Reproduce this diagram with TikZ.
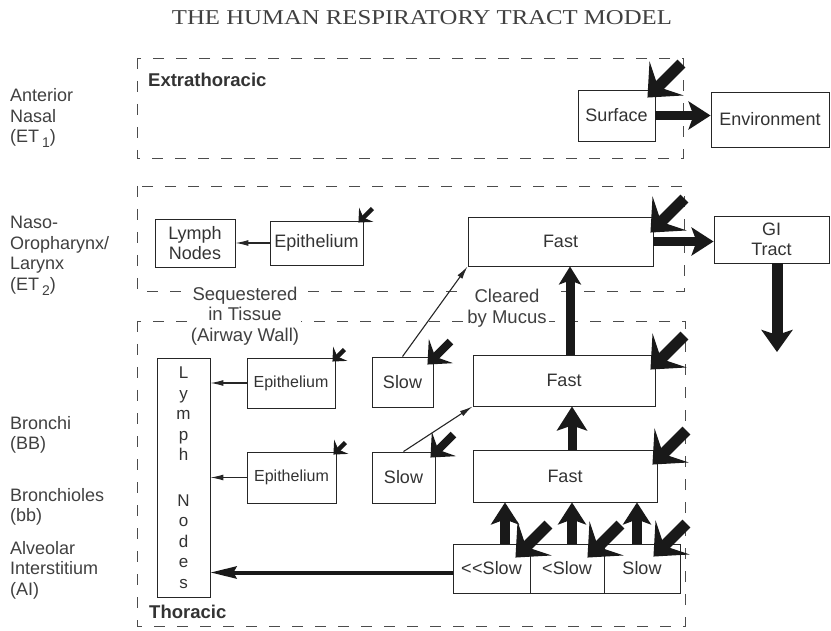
\documentclass[tikz,border=0pt]{standalone}
\usepackage{fontspec}
\usepackage{graphicx}
\setmainfont{Liberation Sans}
\newfontfamily\titlefont{Liberation Serif}
\usetikzlibrary{arrows.meta,calc}
\newcommand\subnum[1]{\,\raisebox{-5pt}{\fontsize{14}{14}\selectfont #1}}
\newcommand\inarrow[5]{%
  \coordinate (tip-#1) at ($(#1.north east)+(#2,#3)$);
  \draw[#4] ($(tip-#1)+(#5,-#5)$) -- (tip-#1);}
\begin{document}
\begin{tikzpicture}[x=1pt,y=-1pt,
  every node/.style={inner sep=0pt, text=black!80},
  box/.style={draw=black!85, line width=0.9pt, fill=white, align=center, font=\fontsize{18}{20}\selectfont},
  region/.style={draw=black!70, line width=0.9pt, dash pattern=on 11pt off 12pt},
  side/.style={anchor=west, align=left, font=\fontsize{18}{20.5}\selectfont, text=black!75},
  note/.style={align=center, fill=white, inner sep=2pt, font=\fontsize{18.5}{20.5}\selectfont, text=black!75},
  boldlab/.style={anchor=west, font=\bfseries\fontsize{18.5}{20}\selectfont},
  thinA/.style={draw=black!85, line width=1.1pt, -{Latex[length=13pt,width=6pt]}},
  flowA/.style={draw=black!90, line width=9pt, -{Stealth[length=22pt,width=28pt,inset=5pt]}},
  bigA/.style={draw=black!90, line width=11pt, -{Stealth[length=27pt,width=48pt,inset=12pt]}},
  midA/.style={draw=black!90, line width=8pt, -{Stealth[length=19pt,width=34pt,inset=8pt]}},
  smallA/.style={draw=black!90, line width=4.5pt, -{Stealth[length=11pt,width=20pt,inset=4pt]}},
]
\useasboundingbox (0,0) rectangle (831,631);

% title
\node (title) at (422,18) {\color{black!75}\titlefont\resizebox{500pt}{14pt}{THE HUMAN RESPIRATORY TRACT MODEL}};

% left labels
\node[side] (lab1) at (10,118) {Anterior\\Nasal\\(ET\subnum{1})};
\node[side] (lab2) at (10,256) {Naso-\\Oropharynx/\\Larynx\\(ET\subnum{2})};
\node[side] (lab3) at (10,435) {Bronchi\\(BB)};
\node[side] (lab4) at (10,507) {Bronchioles\\(bb)};
\node[side] (lab5) at (10,570) {Alveolar\\Interstitium\\(AI)};

% regions
\draw[region] (137,58) rectangle (683,158);
\draw[region] (137,186) rectangle (684,291);
\draw[region] (137,321) rectangle (685,626);
\node[boldlab] (extra) at (148,80) {Extrathoracic};
\node[boldlab] (thor) at (149,612) {Thoracic};
\node[note] (seq) at (245,316) {Sequestered\\in Tissue\\(Airway Wall)};
\node[note] (clr) at (507,308) {Cleared\\by Mucus};

% boxes
\node[box, minimum width=77pt, minimum height=51pt] (surf) at (616.5,115.5) {Surface};
\node[box, minimum width=118pt, minimum height=55pt] (env) at (770,119.5) {Environment};
\node[box, minimum width=80pt, minimum height=48pt] (ln1) at (195,243) {Lymph\\Nodes};
\node[box, minimum width=93pt, minimum height=44pt] (ep1) at (316.5,243) {Epithelium};
\node[box, minimum width=185pt, minimum height=49pt] (fast1) at (560.5,241.5) {Fast};
\node[box, minimum width=115pt, minimum height=47pt] (gi) at (771.5,239.5) {GI\\Tract};
\node[box, minimum width=53pt, minimum height=239pt, font=\fontsize{17}{20.5}\selectfont] (lymph) at (183.5,477.5)
  {L\\y\\m\\p\\h\\[25pt]N\\o\\d\\e\\s};
\node[box, minimum width=88pt, minimum height=50pt, font=\fontsize{16}{18}\selectfont] (ep2) at (291,383) {Epithelium};
\node[box, minimum width=89pt, minimum height=51pt, font=\fontsize{16}{18}\selectfont] (ep3) at (291.5,477.5) {Epithelium};
\node[box, minimum width=61pt, minimum height=50pt] (slow2) at (402.5,382) {Slow};
\node[box, minimum width=63pt, minimum height=51pt] (slow3) at (403.5,477.5) {Slow};
\node[box, minimum width=182pt, minimum height=51pt] (fast2) at (564,380.5) {Fast};
\node[box, minimum width=184pt, minimum height=52pt] (fast3) at (565,476) {Fast};
\node[box, minimum width=77pt, minimum height=49pt] (s1) at (491.5,568.5) {\mbox{<}\kern0.5pt\mbox{<}Slow};
\node[box, minimum width=74pt, minimum height=49pt] (s2) at (567,568.5) {\mbox{<}Slow};
\node[box, minimum width=76pt, minimum height=49pt] (s3) at (642,568.5) {Slow};

% thin arrows
\draw[thinA] (ep1.west) -- (ln1.east);
\draw[thinA] (ep2.west) -- (ep2.west -| lymph.east);
\draw[thinA] (ep3.west) -- (ep3.west -| lymph.east);
\draw[thinA] (slow2.north) -- (fast1.south west);
\draw[thinA] (slow3.north) -- (fast2.south west);

% flow arrows
\draw[flowA] (surf.east) -- (surf.east -| env.west);
\draw[flowA] (fast1.east) -- (fast1.east -| gi.west);
\coordinate (giout) at (777,352);
\draw[flowA, line width=11pt, -{Stealth[length=22pt,width=31pt,inset=5pt]}] (gi.south -| giout) -- (giout);
\draw[flowA, -{Stealth[length=18pt,width=22pt,inset=4pt]}] ([xshift=6pt]fast2.north) -- ([xshift=6pt]fast2.north |- fast1.south);
\draw[flowA, -{Stealth[length=24pt,width=30pt,inset=5pt]}] ([xshift=7pt]fast3.north) -- ([xshift=7pt]fast3.north |- fast2.south);
\draw[flowA, line width=10pt] ([xshift=13.5pt]s1.north) -- ([xshift=13.5pt]s1.north |- fast3.south);
\draw[flowA, line width=10pt] ([xshift=5pt]s2.north) -- ([xshift=5pt]s2.north |- fast3.south);
\draw[flowA, line width=10pt] ([xshift=-5pt]s3.north) -- ([xshift=-5pt]s3.north |- fast3.south);
\draw[draw=black!90, line width=4pt, -{Stealth[length=26pt,width=12pt,inset=3pt]}] ([yshift=-4pt]s1.west) -- ([yshift=-4pt]s1.west -| lymph.east);

% deposition arrows
\inarrow{surf}{-8}{8}{bigA}{34}
\inarrow{fast1}{-3}{16}{bigA}{34}
\inarrow{fast2}{-5}{15}{bigA}{34}
\inarrow{fast3}{-5}{15}{bigA}{34}
\inarrow{s1}{-15}{14}{bigA}{33}
\inarrow{s2}{-17}{14}{bigA}{33}
\inarrow{s3}{-27}{13}{bigA}{33}
\inarrow{slow2}{-6}{8}{midA}{23}
\inarrow{slow3}{-5}{6}{midA}{23}
\inarrow{ep1}{-5}{2}{smallA}{14}
\inarrow{ep2}{-3}{4}{smallA}{12}
\inarrow{ep3}{-3}{3}{smallA}{12}
\end{tikzpicture}
\end{document}
